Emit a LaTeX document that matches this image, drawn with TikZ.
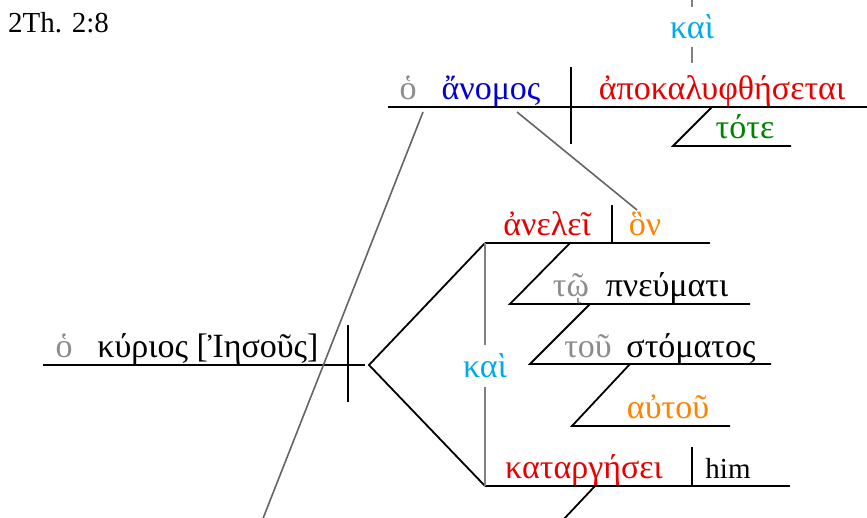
\documentclass[tikz,border=0pt]{standalone}
\usepackage{fontspec}
\setmainfont{Liberation Serif}
\definecolor{artgray}{RGB}{140,140,140}
\definecolor{linkgray}{RGB}{100,100,100}
\definecolor{conjgray}{RGB}{128,128,128}
\definecolor{subjblue}{RGB}{0,0,210}
\definecolor{verbred}{RGB}{230,0,0}
\definecolor{advgreen}{RGB}{0,130,0}
\definecolor{pronorange}{RGB}{255,130,0}
\definecolor{conjcyan}{RGB}{0,170,235}
\begin{document}
\begin{tikzpicture}[x=1pt,y=-1pt,
    word/.style={anchor=base,inner sep=0pt,font=\fontsize{34}{40}\selectfont},
    latin/.style={anchor=base,inner sep=0pt,font=\fontsize{29}{34}\selectfont},
    kai/.style={inner sep=0pt,text=conjcyan,font=\fontsize{34}{40}\selectfont},
    base/.style={line width=1.8pt,black},
    link/.style={line width=1.6pt,linkgray},
    conj/.style={line width=1.6pt,conjgray}]

    \useasboundingbox (0,0) rectangle (867,518);

    % Define the points of the main clause
    \coordinate (MainL) at (388,107);
    \coordinate (MainR) at (867,107);
    \coordinate (MainDivT) at (571,67);
    \coordinate (MainDivB) at (571,144);
    \coordinate (ToteA) at (712,107);
    \coordinate (ToteB) at (673,146);
    \coordinate (ToteC) at (791,146);
    \coordinate (KaiTopA) at (692,0);
    \coordinate (KaiTopB) at (692,63);

    % Define the points of the second clause
    \coordinate (SubjL) at (43,365);
    \coordinate (SubjR) at (365,365);
    \coordinate (SubjDivT) at (348,325);
    \coordinate (SubjDivB) at (348,402);
    \coordinate (Fork) at (369,365);
    \coordinate (AnelL) at (485,243);
    \coordinate (AnelR) at (710,243);
    \coordinate (AnelDivT) at (612,205);
    \coordinate (KatL) at (485,486);
    \coordinate (KatR) at (790,486);
    \coordinate (KatDivT) at (692,447);
    \coordinate (KatDivB) at (692,486);

    % Define the points of the modifiers
    \coordinate (PnA) at (570,243);
    \coordinate (PnB) at (510,304);
    \coordinate (PnC) at (750,304);
    \coordinate (StA) at (590,304);
    \coordinate (StB) at (530,364);
    \coordinate (StC) at (771,364);
    \coordinate (AuA) at (630,364);
    \coordinate (AuB) at (572,426);
    \coordinate (AuC) at (730,426);
    \coordinate (DownA) at (595,486);
    \coordinate (DownB) at (563,520);

    % Define the points of the relative links
    \coordinate (ArtLinkA) at (423,112);
    \coordinate (ArtLinkB) at (262,521);
    \coordinate (RelLinkA) at (517,112);
    \coordinate (RelLinkB) at (637,210);

    % Draw the main clause
    \draw[base] (MainL) -- (MainR);
    \draw[base] (MainDivT) -- (MainDivB);
    \draw[base] (ToteA) -- (ToteB) -- (ToteC);

    % Draw the compound predicate
    \draw[base] (SubjL) -- (SubjR);
    \draw[base] (SubjDivT) -- (SubjDivB);
    \draw[base] (AnelL) -- (Fork) -- (KatL);
    \draw[base] (AnelL) -- (AnelR);
    \draw[base] (AnelDivT) -- (AnelDivT |- AnelL);
    \draw[base] (KatL) -- (KatR);
    \draw[base] (KatDivT) -- (KatDivB);

    % Draw the modifiers
    \draw[base] (PnA) -- (PnB) -- (PnC);
    \draw[base] (StA) -- (StB) -- (StC);
    \draw[base] (AuA) -- (AuB) -- (AuC);
    \draw[base] (DownA) -- (DownB);

    % Draw the conjunctions
    \node[kai,minimum height=40pt] (kaiTop) at (692,27) {καὶ};
    \draw[conj] (KaiTopA) -- (kaiTop.north);
    \draw[conj] (kaiTop.south) -- (KaiTopB);
    \node[kai,minimum height=42pt] (kaiMid) at (485,366) {καὶ};
    \draw[conj] (AnelL) -- (kaiMid.north);
    \draw[conj] (kaiMid.south) -- (KatL);

    % Draw the relative links
    \draw[link] (ArtLinkA) -- (ArtLinkB);
    \draw[link] (RelLinkA) -- (RelLinkB);

    % Add the words
    \node[latin,anchor=base west] (ref) at (8,33) {2Th. 2:8};
    \node[word,text=artgray] (art1) at (408,100) {ὁ};
    \node[word,text=subjblue] (anomos) at (491,100) {ἄνομος};
    \node[word,text=verbred] (apokal) at (722,100) {ἀποκαλυφθήσεται};
    \node[word,text=advgreen] (tote) at (745,139) {τότε};
    \node[word,text=artgray] (art2) at (64,358) {ὁ};
    \node[word] (kyrios) at (208,358) {κύριος [Ἰησοῦς]};
    \node[word,text=verbred] (anelei) at (547,236) {ἀνελεῖ};
    \node[word,text=pronorange] (hon) at (645,236) {ὃν};
    \node[word,text=artgray] (art3) at (571,297) {τῷ};
    \node[word] (pneumati) at (667,297) {πνεύματι};
    \node[word,text=artgray] (art4) at (588,357) {τοῦ};
    \node[word] (stomatos) at (691,357) {στόματος};
    \node[word,text=pronorange] (autou) at (668,418) {αὐτοῦ};
    \node[word,text=verbred] (katarg) at (584,478) {καταργήσει};
    \node[latin] (him) at (728,478) {him};

\end{tikzpicture}
\end{document}
